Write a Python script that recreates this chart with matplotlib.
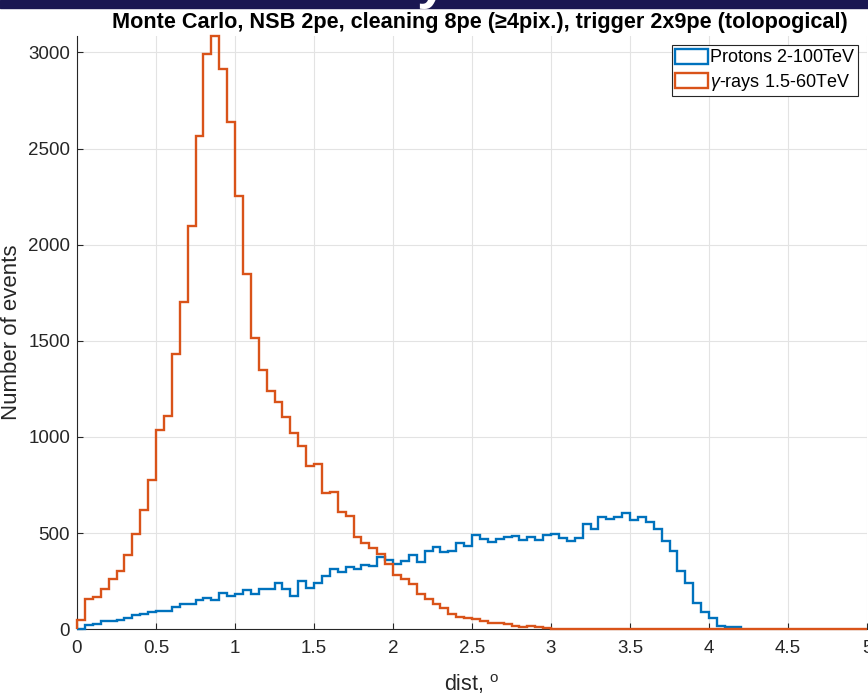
import numpy as np
import matplotlib.pyplot as plt
from matplotlib.patches import Rectangle, Patch

plt.rcParams['font.family'] = ['Liberation Sans', 'DejaVu Sans']
plt.rcParams['mathtext.fontset'] = 'custom'
plt.rcParams['mathtext.rm'] = 'Liberation Sans'
plt.rcParams['mathtext.it'] = 'Liberation Sans:italic'

bin_width = 0.05

# gamma-ray counts per 0.05 deg bin, 0 .. 5 deg
gammas = [48, 159, 168, 210, 260, 305, 385, 496, 618, 778,
          1034, 1111, 1432, 1701, 2097, 2565, 2992, 3085, 2912, 2636,
          2255, 1850, 1514, 1349, 1241, 1183, 1102, 1019, 955, 849,
          860, 707, 714, 611, 589, 482, 451, 425, 391, 338,
          282, 263, 234, 182, 156, 130, 109, 80, 62, 59,
          52, 45, 34, 31, 28, 17, 10, 17, 12, 5,
          4, 3, 2] + [0] * 37

# proton counts per 0.05 deg bin, 0 .. 4.2 deg
protons = [4, 21, 29, 41, 45, 48, 59, 73, 81, 90,
           97, 97, 114, 130, 130, 150, 165, 151, 187, 171,
           184, 204, 183, 208, 208, 240, 210, 174, 249, 217,
           243, 279, 312, 297, 322, 315, 334, 328, 374, 362,
           340, 355, 386, 352, 407, 428, 402, 407, 450, 433,
           489, 468, 456, 470, 482, 484, 464, 482, 464, 491,
           498, 476, 459, 476, 546, 523, 583, 574, 582, 603,
           568, 586, 556, 523, 461, 409, 305, 239, 138, 92,
           57, 19, 14, 10]

labels = ['Protons 2-100TeV', r'$\gamma$-rays 1.5-60TeV']
colors = ['#0072BD', '#D95319']

g_edges = np.arange(len(gammas) + 1) * bin_width
p_edges = np.arange(len(protons) + 1) * bin_width

W, H = 868, 693
fig = plt.figure(figsize=(W / 100, H / 100), dpi=100)
# strip of the slide background above the plot
fig.patches.append(Rectangle((0, 1 - 8 / H), 1, 8 / H, transform=fig.transFigure,
                             color='#1a1752', zorder=0))
fig.text(432 / W, 1 + 3 / H, 'y', color='white', fontsize=40, fontweight='bold',
         ha='center', va='baseline')

ax = fig.add_axes([77 / W, (H - 629.3) / H, 790 / W, (629.3 - 36) / H])

ax.stairs(protons, p_edges, baseline=0, color=colors[0], lw=1.7, zorder=3, clip_on=False)
ax.stairs(gammas, g_edges, baseline=0, color=colors[1], lw=1.7, zorder=3, clip_on=False)

ax.set_xlim(0, 5)
ax.set_ylim(0, max(gammas))
ax.set_xticks(np.arange(0, 5.01, 0.5))
ax.set_xticklabels(['0', '0.5', '1', '1.5', '2', '2.5', '3', '3.5', '4', '4.5', '5'])
ax.set_yticks(np.arange(0, 3001, 500))

for s in ['top', 'right']:
    ax.spines[s].set_visible(False)
for s in ['left', 'bottom']:
    ax.spines[s].set_color('#262626')
    ax.spines[s].set_linewidth(0.8)

ax.tick_params(direction='in', length=4, width=0.8, color='#262626',
               labelcolor='#262626', labelsize=13.5)
ax.tick_params(axis='x', pad=8)
ax.tick_params(axis='y', pad=5)
ax.grid(True, color='#e3e3e3', lw=0.8)
ax.set_axisbelow(True)

ax.set_xlabel(r'dist, $^{\mathrm{o}}$', fontsize=15.5, color='#262626', labelpad=11)
ax.set_ylabel('Number of events', fontsize=16, color='#262626', labelpad=4)
ax.set_title('Monte Carlo, NSB 2pe, cleaning 8pe (\u22654pix.), trigger 2x9pe (tolopogical)',
             fontsize=15.6, fontweight='bold', pad=6, x=0.51)

handles = [Patch(facecolor='none', edgecolor=c, lw=1.7) for c in colors]
leg = ax.legend(handles, labels, loc='upper right', fontsize=13, fancybox=False,
                framealpha=1, edgecolor='#262626', borderpad=0.2, labelspacing=0.3,
                handlelength=1.8, handleheight=0.9, handletextpad=0.15,
                borderaxespad=0.5)
leg.get_frame().set_linewidth(0.8)

fig.savefig('out.png', dpi=100)
